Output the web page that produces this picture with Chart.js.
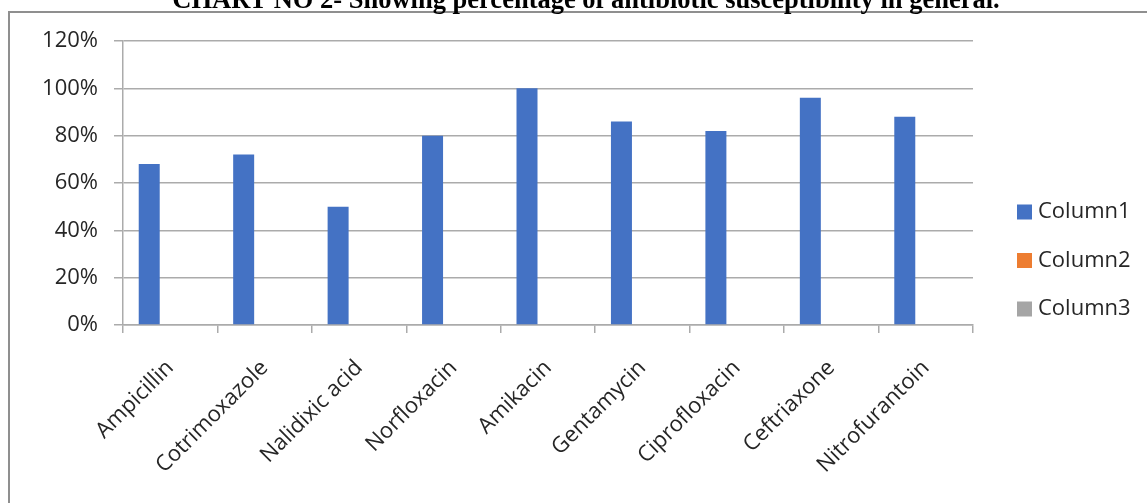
<!DOCTYPE html>
<html>
<head>
<meta charset="utf-8">
<script src="https://cdn.jsdelivr.net/npm/chart.js@4/dist/chart.umd.min.js"></script>
<style>
  html, body { margin: 0; padding: 0; background: #ffffff; overflow: hidden; }
  #wrap { width: 1147px; height: 503px; position: relative; }
</style>
</head>
<body>
<div id="wrap"><canvas id="c" width="1147" height="503"></canvas></div>
<script>
// Antibiotic susceptibility (%) per drug
const categories = ['Ampicillin', 'Cotrimoxazole', 'Nalidixic acid', 'Norfloxacin', 'Amikacin',
                    'Gentamycin', 'Ciprofloxacin', 'Ceftriaxone', 'Nitrofurantoin'];
const column1 = [68, 72, 50, 80, 100, 86, 82, 96, 88];
const column2 = [null, null, null, null, null, null, null, null, null];
const column3 = [null, null, null, null, null, null, null, null, null];
const seriesNames = ['Column1', 'Column2', 'Column3'];
const seriesColors = ['#4472C4', '#ED7D31', '#A5A5A5'];
const yTicks = [0, 20, 40, 60, 80, 100, 120];
const titleText = 'CHART NO 2- Showing percentage of antibiotic susceptibility in general.';

const labelFont = { family: '"Open Sans", "Noto Sans", sans-serif', size: 22 };
const textColor = '#262626';
const gridColor = '#ababab';

// Frame, heading and the series key around the plot
const decorations = {
  id: 'decorations',
  beforeDraw(chart) {
    const ctx = chart.ctx;
    ctx.save();
    ctx.fillStyle = '#ffffff';
    ctx.fillRect(0, 0, chart.width, chart.height);
    ctx.strokeStyle = '#8f8f8f';
    ctx.lineWidth = 2;
    ctx.strokeRect(9, 12, chart.width + 20, chart.height + 20);
    ctx.restore();
  },
  afterDraw(chart) {
    const ctx = chart.ctx;
    ctx.save();
    ctx.fillStyle = '#000000';
    ctx.font = 'bold 26.5px "Liberation Serif", "Times New Roman", serif';
    ctx.textAlign = 'center';
    ctx.textBaseline = 'alphabetic';
    ctx.fillText(titleText, 586, 7.5);

    ctx.font = labelFont.size + 'px ' + labelFont.family;
    ctx.textAlign = 'left';
    ctx.textBaseline = 'middle';
    chart.data.datasets.forEach((ds, i) => {
      const cy = 212 + i * 48.5;
      ctx.fillStyle = ds.backgroundColor;
      ctx.fillRect(1017, cy - 7.5, 15, 15);
      ctx.fillStyle = textColor;
      ctx.fillText(ds.label, 1038, cy);
    });
    ctx.restore();
  }
};

new Chart(document.getElementById('c'), {
  type: 'bar',
  data: {
    labels: categories,
    datasets: [
      { label: seriesNames[0], data: column1, backgroundColor: seriesColors[0] },
      { label: seriesNames[1], data: column2, backgroundColor: seriesColors[1] },
      { label: seriesNames[2], data: column3, backgroundColor: seriesColors[2] }
    ]
  },
  options: {
    responsive: false,
    animation: false,
    devicePixelRatio: 1,
    layout: { padding: { left: 0, top: 41, right: 174, bottom: 0 } },
    datasets: { bar: { categoryPercentage: 0.667, barPercentage: 1.0 } },
    plugins: {
      legend: { display: false },
      title: { display: false },
      tooltip: { enabled: false }
    },
    scales: {
      x: {
        offset: true,
        grid: {
          offset: true,
          drawOnChartArea: false,
          drawTicks: true,
          tickLength: 8,
          color: gridColor,
          lineWidth: 1.5
        },
        border: { display: true, color: gridColor, width: 1.5 },
        ticks: {
          autoSkip: false,
          minRotation: 45,
          maxRotation: 45,
          padding: 22,
          color: textColor,
          font: labelFont
        },
        afterFit(scale) { scale.height = 178; }
      },
      y: {
        min: 0,
        max: 120,
        afterBuildTicks(scale) { scale.ticks = yTicks.map(v => ({ value: v })); },
        grid: {
          color: gridColor,
          lineWidth: 1.5,
          drawTicks: true,
          tickLength: 9
        },
        border: { display: true, color: gridColor, width: 1.5 },
        ticks: {
          padding: 16,
          color: textColor,
          font: labelFont,
          callback: v => v + '%'
        },
        afterFit(scale) { scale.width = 123; }
      }
    }
  },
  plugins: [decorations]
});
</script>
</body>
</html>
